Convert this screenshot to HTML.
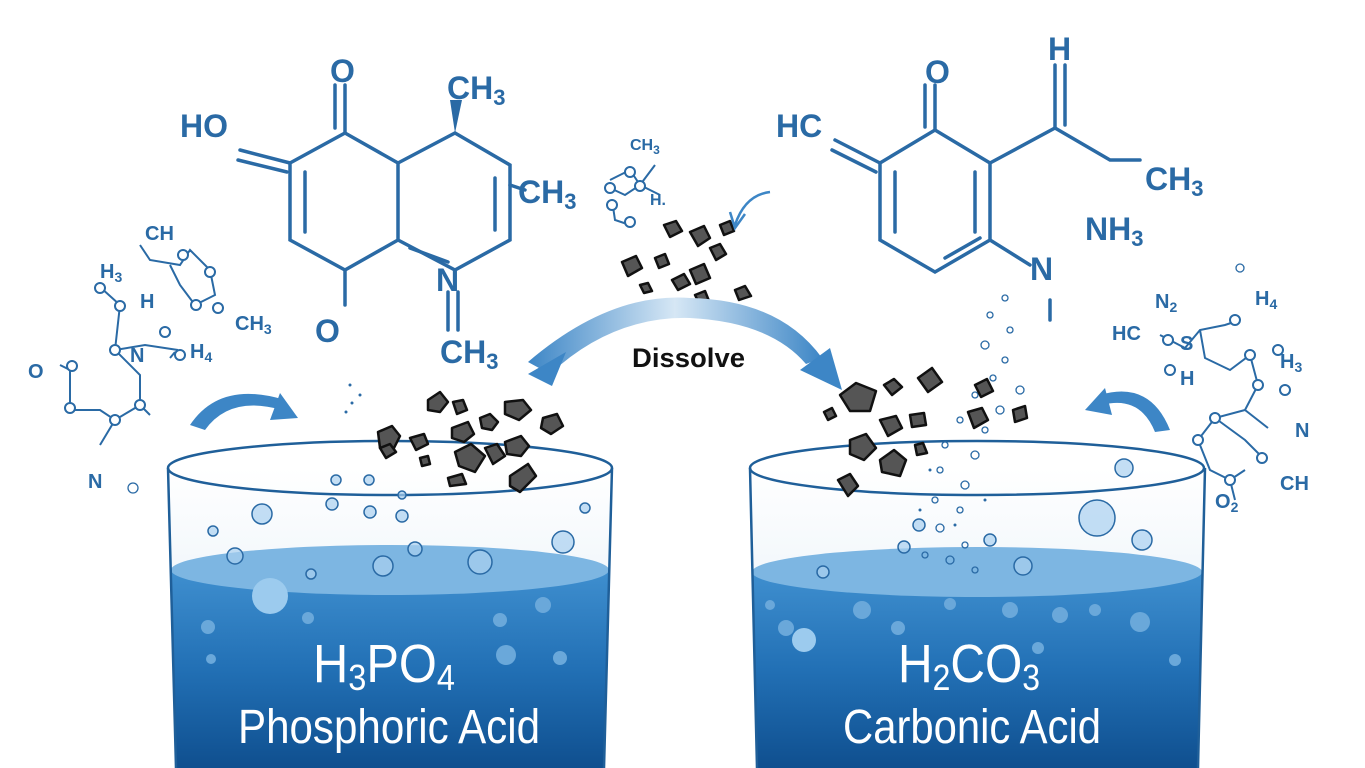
<!DOCTYPE html>
<html><head><meta charset="utf-8"><style>
html,body{margin:0;padding:0;background:#fff;}
svg{display:block;}
.m{font-family:"Liberation Sans",sans-serif;fill:#2a6aa5;font-weight:bold;}
.w{font-family:"Liberation Sans",sans-serif;fill:#fff;}
</style></head><body>
<svg width="1365" height="768" viewBox="0 0 1365 768" xmlns="http://www.w3.org/2000/svg">
<defs>
<linearGradient id="liq" x1="0" y1="0" x2="0" y2="1">
<stop offset="0" stop-color="#3f8fcf"/><stop offset="0.5" stop-color="#2270b5"/><stop offset="1" stop-color="#0f4f8f"/>
</linearGradient>
<linearGradient id="glass" x1="0" y1="0" x2="0" y2="1">
<stop offset="0" stop-color="#ffffff"/><stop offset="1" stop-color="#dbe9f5"/>
</linearGradient>
<linearGradient id="arr" x1="0" y1="0" x2="1" y2="0">
<stop offset="0" stop-color="#3d86c6"/><stop offset="0.5" stop-color="#d6e7f5"/><stop offset="1" stop-color="#3d86c6"/>
</linearGradient>
</defs>

<!-- LEFT BEAKER -->
<path d="M168,468 L176,768 L604,768 L612,468 Z" fill="url(#glass)"/>
<path d="M171,570 L176,768 L604,768 L609,570 Z" fill="url(#liq)"/>
<ellipse cx="390" cy="570" rx="219" ry="25" fill="#7db6e2"/>
<ellipse cx="390" cy="468" rx="222" ry="27" fill="none" stroke="#1f5f99" stroke-width="2.5"/>
<path d="M168,468 L176,768 M612,468 L604,768" stroke="#1f5f99" stroke-width="2.5" fill="none"/>
<text class="w" x="313" y="682" font-size="54" textLength="142" lengthAdjust="spacingAndGlyphs">H<tspan font-size="36" dy="8">3</tspan><tspan dy="-8">PO</tspan><tspan font-size="36" dy="8">4</tspan></text>
<text class="w" x="238" y="743" font-size="48" textLength="302" lengthAdjust="spacingAndGlyphs">Phosphoric Acid</text>

<!-- RIGHT BEAKER -->
<path d="M750,468 L757,768 L1198,768 L1205,468 Z" fill="url(#glass)"/>
<path d="M752,572 L757,768 L1198,768 L1203,572 Z" fill="url(#liq)"/>
<ellipse cx="977" cy="572" rx="225" ry="25" fill="#7db6e2"/>
<ellipse cx="977" cy="468" rx="227" ry="27" fill="none" stroke="#1f5f99" stroke-width="2.5"/>
<path d="M750,468 L757,768 M1205,468 L1198,768" stroke="#1f5f99" stroke-width="2.5" fill="none"/>
<text class="w" x="898" y="682" font-size="54" textLength="142" lengthAdjust="spacingAndGlyphs">H<tspan font-size="36" dy="8">2</tspan><tspan dy="-8">CO</tspan><tspan font-size="36" dy="8">3</tspan></text>
<text class="w" x="843" y="743" font-size="48" textLength="258" lengthAdjust="spacingAndGlyphs">Carbonic Acid</text>

<!-- bubbles -->
<g fill="#a9d0ef" fill-opacity="0.7" stroke="#2a6aa5" stroke-width="1.5">
<circle cx="262" cy="514" r="10"/><circle cx="213" cy="531" r="5"/><circle cx="235" cy="556" r="8"/><circle cx="311" cy="574" r="5"/>
<circle cx="383" cy="566" r="10"/><circle cx="415" cy="549" r="7"/><circle cx="480" cy="562" r="12"/><circle cx="563" cy="542" r="11"/>
<circle cx="585" cy="508" r="5"/><circle cx="332" cy="504" r="6"/><circle cx="402" cy="516" r="6"/><circle cx="369" cy="480" r="5"/>
<circle cx="402" cy="495" r="4"/><circle cx="370" cy="512" r="6"/><circle cx="336" cy="480" r="5"/>
<circle cx="1097" cy="518" r="18"/><circle cx="1124" cy="468" r="9"/><circle cx="1142" cy="540" r="10"/><circle cx="1023" cy="566" r="9"/>
<circle cx="919" cy="525" r="6"/><circle cx="904" cy="547" r="6"/><circle cx="990" cy="540" r="6"/><circle cx="823" cy="572" r="6"/>
</g>
<g fill="#6aa8da" stroke="none">
<circle cx="270" cy="596" r="18" fill="#9ccbee"/><circle cx="208" cy="627" r="7"/><circle cx="211" cy="659" r="5"/><circle cx="308" cy="618" r="6"/>
<circle cx="500" cy="620" r="7"/><circle cx="506" cy="655" r="10"/><circle cx="543" cy="605" r="8"/><circle cx="560" cy="658" r="7"/>
<circle cx="786" cy="628" r="8"/><circle cx="804" cy="640" r="12" fill="#9ccbee"/><circle cx="862" cy="610" r="9"/><circle cx="898" cy="628" r="7"/>
<circle cx="1060" cy="615" r="8"/><circle cx="1095" cy="610" r="6"/><circle cx="1140" cy="622" r="10"/><circle cx="1038" cy="648" r="6"/>
<circle cx="950" cy="604" r="6"/><circle cx="1010" cy="610" r="8"/><circle cx="770" cy="605" r="5"/><circle cx="1175" cy="660" r="6"/>
</g>
<g fill="none" stroke="#2a6aa5" stroke-width="1.3">
<circle cx="1005" cy="298" r="3"/><circle cx="990" cy="315" r="3"/><circle cx="1010" cy="330" r="3"/><circle cx="985" cy="345" r="4"/>
<circle cx="1005" cy="360" r="3"/><circle cx="993" cy="378" r="3"/><circle cx="1020" cy="390" r="4"/><circle cx="975" cy="395" r="3"/>
<circle cx="1000" cy="410" r="4"/><circle cx="960" cy="420" r="3"/><circle cx="985" cy="430" r="3"/><circle cx="945" cy="445" r="3"/>
<circle cx="975" cy="455" r="4"/><circle cx="940" cy="470" r="3"/><circle cx="965" cy="485" r="4"/><circle cx="935" cy="500" r="3"/>
<circle cx="960" cy="510" r="3"/><circle cx="940" cy="528" r="4"/><circle cx="965" cy="545" r="3"/><circle cx="950" cy="560" r="4"/>
<circle cx="975" cy="570" r="3"/><circle cx="925" cy="555" r="3"/><circle cx="1240" cy="268" r="4"/><circle cx="133" cy="488" r="5"/>
</g>
<g fill="#2a6aa5">
<circle cx="350" cy="385" r="1.5"/><circle cx="352" cy="403" r="1.5"/><circle cx="360" cy="395" r="1.5"/><circle cx="346" cy="412" r="1.5"/>
<circle cx="930" cy="470" r="1.5"/><circle cx="955" cy="525" r="1.5"/><circle cx="985" cy="500" r="1.5"/><circle cx="920" cy="510" r="1.5"/>
</g>

<!-- rocks -->
<g fill="#555" stroke="#111" stroke-width="2.5" stroke-linejoin="round">
<path d="M378,432 l14,-6 l8,10 l-6,12 l-14,0 z"/><path d="M428,400 l12,-8 l8,10 l-8,10 l-12,-2 z"/>
<path d="M453,402 l10,-2 l4,10 l-10,4 z"/><path d="M505,402 l18,-2 l8,10 l-12,10 l-14,-6 z"/>
<path d="M480,418 l10,-4 l8,8 l-6,8 l-10,-2 z"/><path d="M543,418 l14,-4 l6,12 l-12,8 l-10,-6 z"/>
<path d="M452,428 l16,-6 l6,12 l-10,8 l-12,-4 z"/><path d="M410,438 l14,-4 l4,10 l-12,6 z"/>
<path d="M455,452 l16,-8 l14,12 l-10,16 l-16,-6 z"/><path d="M485,448 l12,-4 l8,12 l-12,8 z"/>
<path d="M505,442 l16,-6 l8,10 l-8,10 l-14,-2 z"/><path d="M510,476 l18,-12 l8,12 l-16,16 l-10,-6 z"/>
<path d="M448,478 l14,-4 l4,10 l-16,2 z"/><path d="M380,448 l10,-4 l6,8 l-10,6 z"/><path d="M420,458 l8,-2 l2,8 l-8,2 z"/>
<path d="M840,395 l16,-12 l20,8 l-6,20 l-20,0 z"/><path d="M918,378 l14,-10 l10,14 l-14,10 z"/>
<path d="M884,385 l10,-6 l8,8 l-10,8 z"/><path d="M975,385 l12,-6 l6,12 l-12,6 z"/>
<path d="M1013,410 l12,-4 l2,12 l-12,4 z"/><path d="M968,412 l14,-4 l6,12 l-14,8 z"/>
<path d="M880,420 l16,-4 l6,12 l-14,8 z"/><path d="M910,415 l14,-2 l2,12 l-14,2 z"/>
<path d="M850,440 l16,-6 l10,14 l-12,12 l-14,-6 z"/><path d="M880,460 l14,-10 l12,10 l-6,16 l-18,-4 z"/>
<path d="M838,480 l12,-6 l8,12 l-10,10 z"/><path d="M824,412 l8,-4 l4,8 l-8,4 z"/><path d="M915,445 l8,-2 l4,10 l-10,2 z"/>
<path d="M664,225 l12,-4 l6,10 l-12,6 z"/><path d="M690,232 l14,-6 l6,12 l-12,8 z"/><path d="M710,248 l10,-4 l6,10 l-10,6 z"/>
<path d="M622,262 l14,-6 l6,12 l-14,8 z"/><path d="M655,258 l10,-4 l4,10 l-10,4 z"/><path d="M672,280 l12,-6 l6,10 l-12,6 z"/>
<path d="M690,270 l14,-6 l6,14 l-14,6 z"/><path d="M735,290 l10,-4 l6,10 l-12,4 z"/><path d="M695,295 l10,-4 l4,10 l-10,2 z"/>
<path d="M640,285 l8,-2 l4,8 l-8,2 z"/><path d="M720,225 l10,-4 l4,10 l-10,4 z"/>
</g>

<!-- Dissolve arrows -->
<path d="M528,362 Q610,292 690,298 Q780,300 822,358 L806,364 Q770,322 690,318 Q612,316 550,374 Z" fill="url(#arr)"/>
<path d="M528,374 L566,352 L552,386 Z" fill="#3d86c6"/>
<path d="M842,390 L800,370 L830,348 Z" fill="#3d86c6"/>
<text x="632" y="367" font-family="Liberation Sans, sans-serif" font-weight="bold" font-size="27" textLength="113" lengthAdjust="spacingAndGlyphs" fill="#111">Dissolve</text>

<!-- small curved arrows -->
<path d="M190,425 Q220,380 285,400 L282,410 Q230,395 205,430 Z" fill="#3d86c6"/>
<path d="M280,393 L298,418 L270,420 Z" fill="#3d86c6"/>
<path d="M1170,430 Q1150,380 1100,395 L1102,405 Q1140,395 1155,432 Z" fill="#3d86c6"/>
<path d="M1105,388 L1085,410 L1112,415 Z" fill="#3d86c6"/>
<path d="M770,192 Q745,195 735,225" stroke="#3d86c6" stroke-width="2.5" fill="none"/>
<path d="M730,212 L735,228 L745,214" stroke="#3d86c6" stroke-width="2.5" fill="none"/>

<!-- LEFT BIG MOLECULE -->
<g stroke="#2a6aa5" stroke-width="3.5" fill="none" stroke-linecap="round">
<path d="M345,133 L398,163 L398,240 L345,270 L290,240 L290,163 Z"/>
<path d="M398,163 L455,133 L510,165 L510,240 L455,270 L398,240"/>
<path d="M345,85 L345,133 M335,85 L335,128"/>
<path d="M345,270 L345,305"/>
<path d="M240,150 L290,163 M238,160 L287,172"/>
<path d="M305,172 L305,232 M495,178 L495,230 M410,248 L448,262"/>
<path d="M510,185 L525,190"/>
<path d="M448,292 L448,330 M458,292 L458,330"/>
</g>
<path d="M455,133 L450,100 L462,100 Z" fill="#2a6aa5"/>
<g class="m" font-size="32">
<text x="180" y="137">HO</text><text x="330" y="82">O</text><text x="447" y="99">CH<tspan font-size="22" dy="6">3</tspan></text>
<text x="518" y="203">CH<tspan font-size="22" dy="6">3</tspan></text><text x="436" y="291">N</text>
<text x="315" y="342">O</text><text x="440" y="363">CH<tspan font-size="22" dy="6">3</tspan></text>
</g>

<!-- RIGHT BIG MOLECULE -->
<g stroke="#2a6aa5" stroke-width="3.5" fill="none" stroke-linecap="round">
<path d="M935,130 L990,163 L990,240 L935,272 L880,240 L880,163 Z"/>
<path d="M895,172 L895,232 M975,172 L975,232 M945,258 L980,238"/>
<path d="M935,85 L935,130 M925,85 L925,127"/>
<path d="M835,140 L880,163 M832,150 L876,172"/>
<path d="M990,163 L1055,128 L1110,160 L1140,160"/>
<path d="M1055,65 L1055,128 M1065,65 L1065,125"/>
<path d="M990,240 L1030,265 M1050,300 L1050,320"/>
</g>
<g class="m" font-size="32">
<text x="776" y="137">HC</text><text x="925" y="83">O</text><text x="1048" y="60">H</text>
<text x="1145" y="190">CH<tspan font-size="22" dy="6">3</tspan></text><text x="1085" y="240">NH<tspan font-size="22" dy="6">3</tspan></text>
<text x="1030" y="280">N</text>
</g>

<!-- SMALL MOLECULES -->
<g stroke="#2a6aa5" stroke-width="2" fill="#fff">
<path d="M140,245 L150,260 L180,265 L190,250 L210,270 L215,295 L195,305 L180,285 L170,265 M100,287 L120,305 L115,350 L140,375 L140,405 L115,420 L100,410 L70,410 L70,370 L60,365 M115,350 L145,345 L178,350 M140,405 L150,415 M115,420 L100,445 M170,358 L175,352" fill="none"/>
<circle cx="100" cy="288" r="5"/><circle cx="120" cy="306" r="5"/><circle cx="183" cy="255" r="5"/><circle cx="210" cy="272" r="5"/>
<circle cx="196" cy="305" r="5"/><circle cx="165" cy="332" r="5"/><circle cx="115" cy="350" r="5"/><circle cx="72" cy="366" r="5"/>
<circle cx="70" cy="408" r="5"/><circle cx="140" cy="405" r="5"/><circle cx="115" cy="420" r="5"/><circle cx="180" cy="355" r="5"/><circle cx="218" cy="308" r="5"/>
<path d="M610,180 L630,170 L640,185 L625,195 L610,188 M612,200 L615,220 L630,225 M640,185 L655,165 M640,185 L660,195" fill="none"/>
<circle cx="610" cy="188" r="5"/><circle cx="630" cy="172" r="5"/><circle cx="640" cy="186" r="5"/><circle cx="612" cy="205" r="5"/><circle cx="630" cy="222" r="5"/>
<path d="M1160,335 L1185,348 L1200,330 L1225,325 L1240,320 M1200,330 L1205,358 L1230,370 L1250,355 L1258,385 L1245,410 L1215,418 L1198,440 L1210,470 L1230,480 L1245,470 M1215,418 L1245,440 L1260,455 M1245,410 L1268,428 M1230,480 L1235,500" fill="none"/>
<circle cx="1168" cy="340" r="5"/><circle cx="1170" cy="370" r="5"/><circle cx="1235" cy="320" r="5"/><circle cx="1250" cy="355" r="5"/>
<circle cx="1278" cy="350" r="5"/><circle cx="1258" cy="385" r="5"/><circle cx="1215" cy="418" r="5"/><circle cx="1198" cy="440" r="5"/>
<circle cx="1230" cy="480" r="5"/><circle cx="1262" cy="458" r="5"/><circle cx="1285" cy="390" r="5"/>
</g>
<g class="m" font-size="20" font-weight="normal">
<text x="145" y="240">CH</text><text x="100" y="278">H<tspan font-size="14" dy="4">3</tspan></text><text x="140" y="308">H</text>
<text x="235" y="330">CH<tspan font-size="14" dy="4">3</tspan></text><text x="28" y="378">O</text><text x="130" y="362">N</text>
<text x="190" y="358">H<tspan font-size="14" dy="4">4</tspan></text><text x="88" y="488">N</text>
<text x="630" y="150" font-size="16">CH<tspan font-size="12" dy="4">3</tspan></text><text x="650" y="205" font-size="16">H.</text>
<text x="1155" y="308">N<tspan font-size="14" dy="4">2</tspan></text><text x="1255" y="305">H<tspan font-size="14" dy="4">4</tspan></text>
<text x="1112" y="340">HC</text><text x="1180" y="350">S</text><text x="1180" y="385">H</text><text x="1280" y="368">H<tspan font-size="14" dy="4">3</tspan></text>
<text x="1295" y="437">N</text><text x="1280" y="490">CH</text><text x="1215" y="508">O<tspan font-size="14" dy="4">2</tspan></text>
</g>
</svg>
</body></html>
